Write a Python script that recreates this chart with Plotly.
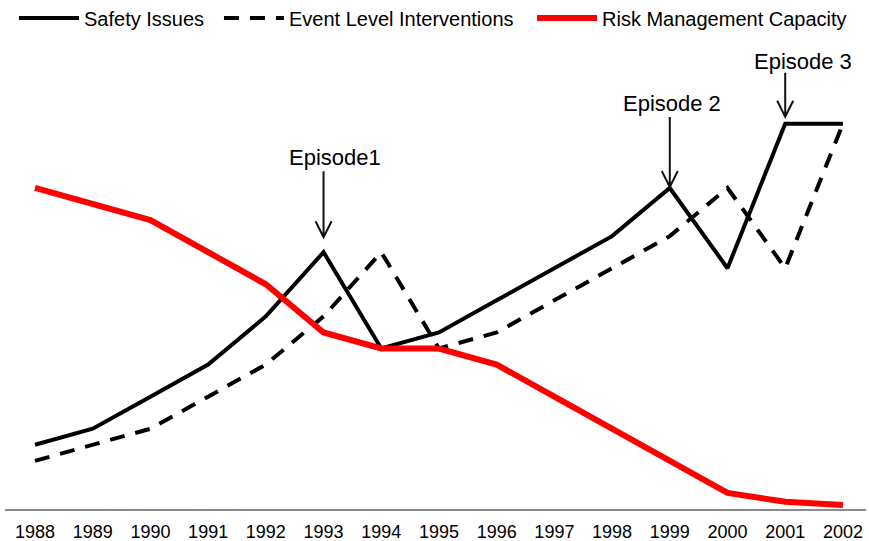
import plotly.graph_objects as go

years = list(range(1988, 2003))
safety_issues = [4, 5, 7, 9, 12, 16, 10, 11, 13, 15, 17, 20, 15, 24, 24]
event_interventions = [3, 4, 5, 7, 9, 12, 16, 10, 11, 13, 15, 17, 20, 15, 24]
risk_capacity = [20, 19, 18, 16, 14, 11, 10, 10, 9, 7, 5, 3, 1, 0.45, 0.25]

episode_labels = ["Episode1", "Episode 2", "Episode 3"]
episode_years = [1993, 1999, 2001]

FONT = "Liberation Sans, Arial, sans-serif"

fig = go.Figure()
fig.add_trace(go.Scatter(x=years, y=safety_issues, mode="lines", name="Safety Issues",
                         line=dict(color="black", width=4), legend="legend"))
fig.add_trace(go.Scatter(x=years, y=event_interventions, mode="lines", name="Event Level Interventions",
                         line=dict(color="black", width=4, dash="15px,11px"), legend="legend2"))
fig.add_trace(go.Scatter(x=years, y=risk_capacity, mode="lines", name="Risk Management Capacity",
                         line=dict(color="#ff0000", width=6), legend="legend3"))

# episode arrows (pixel offsets relative to the safety-issue value at that year)
arrow_specs = [(15, 81), (1, 71), (7, 51)]   # (tip offset, top offset) in px
text_specs = [(11, 95), (2, 84), (18, 62)]   # (xshift, yshift) in px
for lab, yr, (tip, top), (xs, ys) in zip(episode_labels, episode_years, arrow_specs, text_specs):
    yv = safety_issues[years.index(yr)]
    fig.add_shape(type="path", xref="x", yref="y", xsizemode="pixel", ysizemode="pixel",
                  xanchor=yr, yanchor=yv,
                  path=f"M0,{top} L0,{tip} M-8,{tip+16} L0,{tip} L8,{tip+16}",
                  line=dict(color="#111111", width=2))
    fig.add_annotation(x=yr, y=yv, text=lab, showarrow=False, xshift=xs, yshift=ys,
                       font=dict(family=FONT, size=22, color="black"))

leg_common = dict(orientation="h", xanchor="left", y=1.0559, yanchor="middle",
                  font=dict(family=FONT, size=20, color="black"),
                  itemwidth=60, bgcolor="rgba(0,0,0,0)")

fig.update_layout(
    width=869, height=541,
    margin=dict(l=5, r=3, t=44, b=32, autoexpand=False),
    paper_bgcolor="white", plot_bgcolor="white",
    showlegend=True,
    legend=dict(x=0.01045, **leg_common),
    legend2=dict(x=0.2485, **leg_common),
    legend3=dict(x=0.6121, **leg_common),
    xaxis=dict(range=[1987.48, 2002.40], tickmode="array", tickvals=years,
               ticktext=[str(y) for y in years], showgrid=False, zeroline=False,
               showline=True, linecolor="#8c8c8c", linewidth=2, ticks="",
               ticklabelstandoff=5,
               tickfont=dict(family=FONT, size=18, color="black")),
    yaxis=dict(range=[0, 28.97], visible=False, showgrid=False, zeroline=False),
)

fig.write_html("out.html", config={"displayModeBar": False},
               post_script="document.body.style.margin='0px';document.body.style.overflow='hidden';")
